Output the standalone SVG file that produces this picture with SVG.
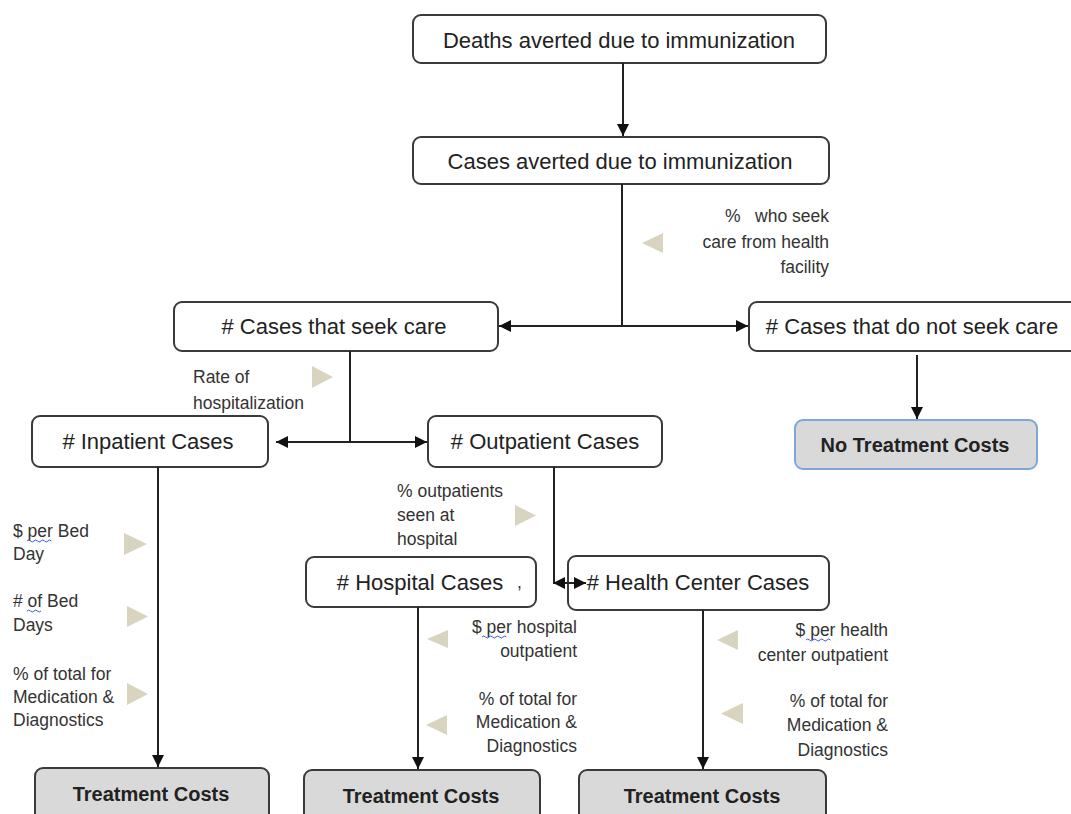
<svg xmlns="http://www.w3.org/2000/svg" width="1071" height="814" viewBox="0 0 1071 814">
<defs>
<style>
.box{fill:#fff;stroke:#3a3a3a;stroke-width:2}
.cost{fill:#d9d9d9;stroke:#3a3a3a;stroke-width:2}
.nt{font-family:"Liberation Sans",Arial,sans-serif;font-size:22px;fill:#222;text-anchor:middle}
.ct{font-family:"Liberation Sans",Arial,sans-serif;font-size:20px;font-weight:bold;fill:#222;text-anchor:middle}
.lb{font-family:"Liberation Sans",Arial,sans-serif;font-size:17.5px;fill:#333}
.r{text-anchor:end}
.tri{fill:#d8d4c0}
.ln{fill:none;stroke:#222;stroke-width:2}
.wv{fill:none;stroke:#3b5de0;stroke-width:1}
</style>
<marker id="ah" viewBox="0 0 10 10" refX="10" refY="5" markerWidth="6" markerHeight="6" orient="auto-start-reverse" markerUnits="strokeWidth">
<path d="M0,0 L10,5 L0,10 z" fill="#111"/>
</marker>
</defs>
<rect width="1071" height="814" fill="#fff"/>

<g id="n-deaths"><rect class="box" x="413" y="15" width="413" height="48" rx="8"/><text class="nt" x="619" y="48">Deaths averted due to immunization</text></g>
<g id="n-cases"><rect class="box" x="413" y="137" width="416" height="47" rx="8"/><text class="nt" x="620" y="169">Cases averted due to immunization</text></g>
<g id="n-seek"><rect class="box" x="174" y="302" width="324" height="49" rx="8"/><text class="nt" x="334" y="334"># Cases that seek care</text></g>
<g id="n-noseek"><rect class="box" x="749" y="302" width="340" height="49" rx="8"/><text class="nt" x="912" y="334"># Cases that do not seek care</text></g>
<g id="n-notreat"><rect x="795" y="420" width="242" height="49" rx="8" fill="#d9d9d9" stroke="#7ea6dc" stroke-width="2"/><text class="ct" x="915" y="452">No Treatment Costs</text></g>
<g id="n-inpatient"><rect class="box" x="32" y="416" width="236" height="51" rx="8"/><text class="nt" x="148" y="449"># Inpatient Cases</text></g>
<g id="n-outpatient"><rect class="box" x="428" y="416" width="234" height="51" rx="8"/><text class="nt" x="545" y="449"># Outpatient Cases</text></g>
<g id="n-hospital"><rect class="box" x="306" y="557" width="230" height="50" rx="8"/><text class="nt" x="420" y="590"># Hospital Cases</text><text class="lb" x="517" y="588" font-size="12">,</text></g>
<g id="n-health"><rect class="box" x="568" y="556" width="261" height="54" rx="8"/><text class="nt" x="698" y="590"># Health Center Cases</text></g>
<g id="n-tc1"><rect class="cost" x="35" y="768" width="234" height="60" rx="8"/><text class="ct" x="151" y="801">Treatment Costs</text></g>
<g id="n-tc2"><rect class="cost" x="304" y="770" width="236" height="60" rx="8"/><text class="ct" x="421" y="803">Treatment Costs</text></g>
<g id="n-tc3"><rect class="cost" x="579" y="770" width="247" height="60" rx="8"/><text class="ct" x="702" y="803">Treatment Costs</text></g>

<g id="connectors">
<line class="ln" x1="623" y1="63" x2="623" y2="136" marker-end="url(#ah)"/>
<line class="ln" x1="622" y1="184" x2="622" y2="326"/>
<line class="ln" x1="499" y1="326" x2="748" y2="326" marker-start="url(#ah)" marker-end="url(#ah)"/>
<line class="ln" x1="917" y1="355" x2="917" y2="419" marker-end="url(#ah)"/>
<line class="ln" x1="350" y1="351" x2="350" y2="442"/>
<line class="ln" x1="276" y1="442" x2="427" y2="442" marker-start="url(#ah)" marker-end="url(#ah)"/>
<line class="ln" x1="554" y1="467" x2="554" y2="583"/>
<line class="ln" x1="553" y1="583" x2="586" y2="583" marker-start="url(#ah)" marker-end="url(#ah)"/>
<line class="ln" x1="158" y1="467" x2="158" y2="767" marker-end="url(#ah)"/>
<line class="ln" x1="418" y1="607" x2="418" y2="769" marker-end="url(#ah)"/>
<line class="ln" x1="703" y1="610" x2="703" y2="769" marker-end="url(#ah)"/>
</g>

<g id="labels">
<text class="lb r" x="829" y="222" xml:space="preserve">%   who seek</text>
<text class="lb r" x="829" y="248">care from health</text>
<text class="lb r" x="829" y="273">facility</text>
<polygon class="tri" points="663,233 663,253 642,243"/>

<text class="lb" x="193" y="383">Rate of</text>
<text class="lb" x="193" y="409">hospitalization</text>
<polygon class="tri" points="312,366 312,388 333,377"/>

<text class="lb" x="13" y="537">$ per Bed</text>
<text class="lb" x="13" y="560">Day</text>
<path class="wv" d="M27,541 q1.75,-2 3.5,0 t3.5,0 t3.5,0 t3.5,0 t3.5,0 t3.5,0 t3.5,0"/>
<polygon class="tri" points="124,533 124,555 147,544"/>
<text class="lb" x="13" y="607"># of Bed</text>
<text class="lb" x="13" y="631">Days</text>
<path class="wv" d="M27,611 q1.75,-2 3.5,0 t3.5,0 t3.5,0 t3.5,0"/>
<polygon class="tri" points="127,606 127,627 148,616.5"/>
<text class="lb" x="13" y="680">% of total for</text>
<text class="lb" x="13" y="703">Medication &amp;</text>
<text class="lb" x="13" y="726">Diagnostics</text>
<polygon class="tri" points="127,683 127,705 148,694"/>

<text class="lb" x="397" y="497">% outpatients</text>
<text class="lb" x="397" y="521">seen at</text>
<text class="lb" x="397" y="545">hospital</text>
<polygon class="tri" points="515,505 515,526 536,515.5"/>

<text class="lb r" x="577" y="633">$ per hospital</text>
<text class="lb r" x="577" y="657">outpatient</text>
<path class="wv" d="M482,637 q1.75,-2 3.5,0 t3.5,0 t3.5,0 t3.5,0 t3.5,0 t3.5,0 t3.5,0"/>
<polygon class="tri" points="448,630 448,648 427,639"/>
<text class="lb r" x="577" y="705">% of total for</text>
<text class="lb r" x="577" y="728">Medication &amp;</text>
<text class="lb r" x="577" y="752">Diagnostics</text>
<polygon class="tri" points="447,715 447,735 426,725"/>

<text class="lb r" x="888" y="636">$ per health</text>
<text class="lb r" x="888" y="661">center outpatient</text>
<path class="wv" d="M806,640 q1.75,-2 3.5,0 t3.5,0 t3.5,0 t3.5,0 t3.5,0 t3.5,0 t3.5,0"/>
<polygon class="tri" points="738,630 738,650 717,640"/>
<text class="lb r" x="888" y="707">% of total for</text>
<text class="lb r" x="888" y="731">Medication &amp;</text>
<text class="lb r" x="888" y="756">Diagnostics</text>
<polygon class="tri" points="743,703 743,724 721,713.5"/>
</g>
</svg>
